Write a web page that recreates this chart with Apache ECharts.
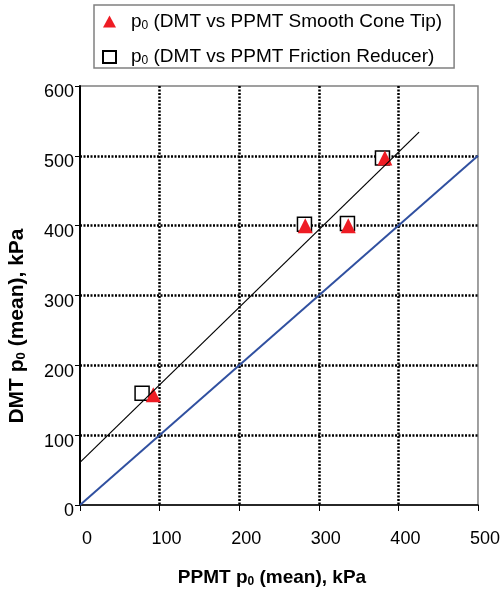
<!DOCTYPE html>
<html>
<head>
<meta charset="utf-8">
<script src="https://cdn.jsdelivr.net/npm/echarts@6/dist/echarts.min.js"></script>
<style>
  html, body { margin: 0; padding: 0; background: #fff; }
  #chart { width: 503px; height: 592px; }
</style>
</head>
<body>
<div id="chart"></div>
<script>
// values (kPa)
const coneTipX = [92, 283, 337, 383];
const coneTipY = [158, 400, 400, 497];
const reducerX = [78, 282, 336, 380];
const reducerY = [160, 402, 403, 497];
const trendX = [0, 426];
const trendY = [61, 534];
const equalityX = [0, 500];
const equalityY = [0, 500];

const coneTipName = "Smooth Cone Tip";
const reducerName = "Friction Reducer";

const FONT = "'Liberation Sans', Arial, sans-serif";
const pairs = (xs, ys) => xs.map((x, i) => [x, ys[i]]);

const chart = echarts.init(document.getElementById("chart"));

// main text + lowered subscript "0"
const subRich = (size, weight) => ({
  a: { fontSize: size, fontWeight: weight, lineHeight: size + 1, color: "#000", fontFamily: FONT },
  s: { fontSize: Math.round(size * 0.62), fontWeight: weight, lineHeight: Math.round(size * 0.62),
       verticalAlign: "bottom", color: "#000", fontFamily: FONT },
});

const option = {
  animation: false,
  textStyle: { fontFamily: FONT },
  grid: { left: 80, right: 25, top: 86, bottom: 87, show: true, borderColor: "#808080", borderWidth: 1.5 },
  legend: {
    data: [coneTipName, reducerName],
    orient: "vertical",
    left: 94,
    top: 5,
    padding: [7, 12, 1, 8],
    itemGap: 16,
    itemWidth: 13,
    itemHeight: 12,
    borderColor: "#808080",
    borderWidth: 1.5,
    formatter: (name) => `{a|p}{s|0}{a| (DMT vs PPMT ${name})}`,
    textStyle: { padding: [0, 0, 0, 10], rich: subRich(19, "normal") },
  },
  xAxis: {
    type: "value",
    min: 0,
    max: 500,
    interval: 100,
    axisLine: { lineStyle: { color: "#000", width: 1.5 } },
    axisTick: { show: true, length: 6, lineStyle: { color: "#000" } },
    axisLabel: { fontSize: 18, color: "#000", margin: 25, padding: [0, 0, 0, 14] },
    splitLine: {
      show: true,
      showMinLine: false,
      showMaxLine: false,
      lineStyle: { color: "#000", width: 2.5, type: [2, 1.5] },
    },
  },
  yAxis: {
    type: "value",
    min: 0,
    max: 600,
    interval: 100,
    axisLine: { show: true, lineStyle: { color: "#000", width: 2 } },
    axisTick: { show: true, length: 5, lineStyle: { color: "#000" } },
    axisLabel: { fontSize: 18, color: "#000", margin: 6, verticalAlign: "top", lineHeight: 13 },
    splitLine: {
      show: true,
      showMinLine: false,
      showMaxLine: false,
      lineStyle: { color: "#000", width: 2.5, type: [2, 1.5] },
    },
  },
  graphic: [
    {
      type: "text",
      x: 272,
      y: 578,
      style: {
        text: "{a|PPMT p}{s|0}{a| (mean), kPa}",
        rich: subRich(19, "bold"),
        align: "center",
        verticalAlign: "middle",
      },
    },
    {
      type: "text",
      x: 17,
      y: 326,
      rotation: Math.PI / 2,
      style: {
        text: "{a|DMT p}{s|0}{a| (mean), kPa}",
        rich: subRich(21, "bold"),
        align: "center",
        verticalAlign: "middle",
      },
    },
  ],
  series: [
    {
      name: reducerName,
      type: "scatter",
      symbol: "rect",
      symbolSize: 14,
      itemStyle: { color: "#fff", borderColor: "#000", borderWidth: 1.5, opacity: 1 },
      data: pairs(reducerX, reducerY),
      z: 3,
    },
    {
      name: coneTipName,
      type: "scatter",
      symbol: "triangle",
      symbolSize: [15, 15],
      itemStyle: { color: "#ee1c24", opacity: 1 },
      data: pairs(coneTipX, coneTipY),
      z: 4,
    },
    {
      type: "line",
      data: pairs(trendX, trendY),
      showSymbol: false,
      lineStyle: { color: "#000", width: 1.2 },
      silent: true,
      z: 5,
    },
    {
      type: "line",
      data: pairs(equalityX, equalityY),
      showSymbol: false,
      lineStyle: { color: "#3050a0", width: 2 },
      silent: true,
      z: 5,
    },
  ],
};

chart.setOption(option);
</script>
</body>
</html>
